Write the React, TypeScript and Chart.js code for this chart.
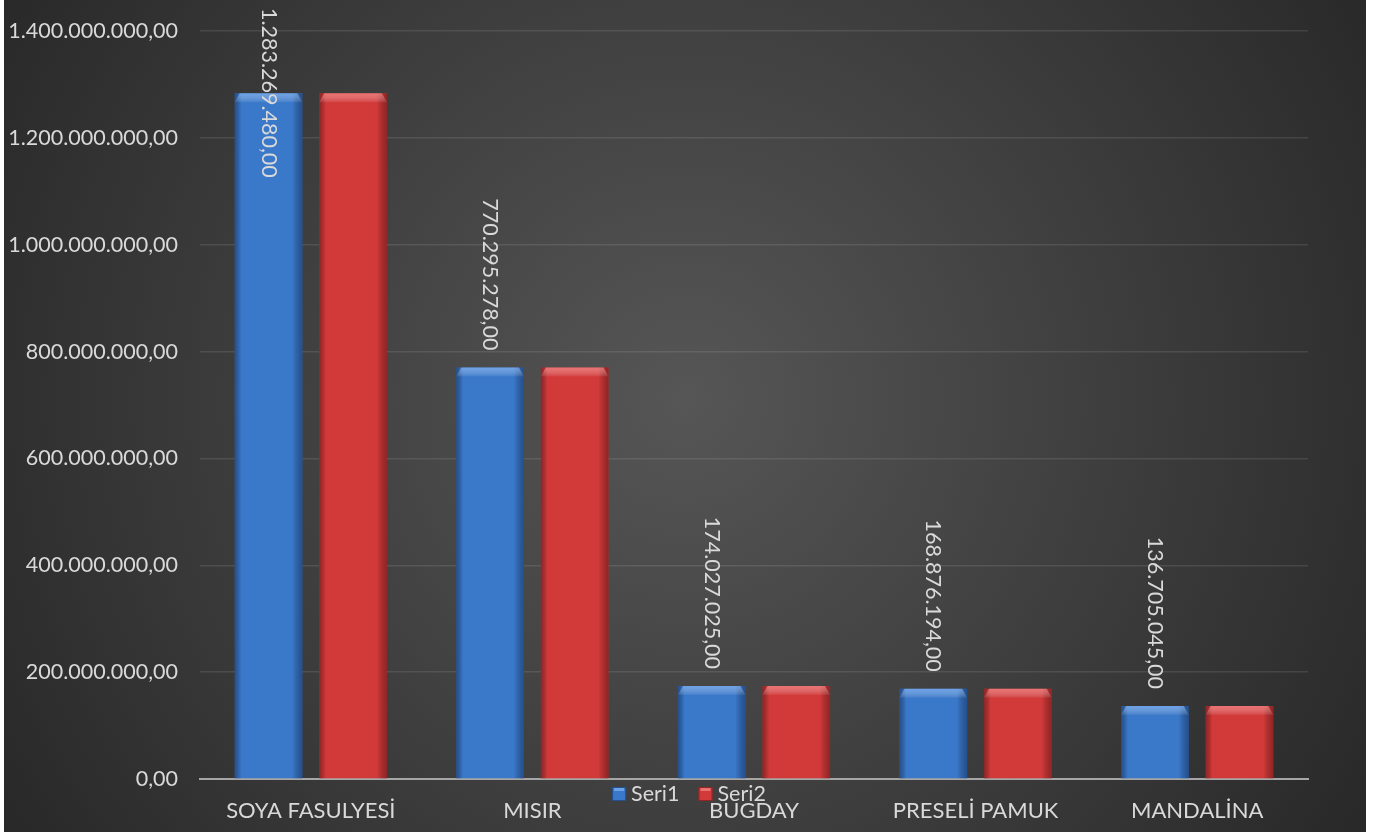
import React, { useEffect, useRef } from "react";
import { Chart, registerables } from "chart.js";

Chart.register(...registerables);

const categories = ["SOYA FASULYESİ", "MISIR", "BUGDAY", "PRESELİ PAMUK", "MANDALİNA"];
const seri1 = [1283269480, 770295278, 174027025, 168876194, 136705045];
const seri2 = [1283269480, 770295278, 174027025, 168876194, 136705045];
const seriesNames = ["Seri1", "Seri2"];
const yMax = 1400000000;
const yStep = 200000000;

const FONT = "Lato, 'Open Sans', sans-serif";
const TEXT = "#d9d9d9";
const FS = 21.5;

function fmtTR(v: number): string {
  const neg = v < 0;
  const fixed = Math.abs(v).toFixed(2);
  const [intPart, dec] = fixed.split(".");
  const withDots = intPart.replace(/\B(?=(\d{3})+(?!\d))/g, ".");
  return (neg ? "-" : "") + withDots + "," + dec;
}

const palette = [
  { main: "#3a78c9", dark: "rgba(10,30,70,0.45)", light: "rgba(150,195,255,0.55)" },
  { main: "#d23a3a", dark: "rgba(70,10,10,0.45)", light: "rgba(255,160,160,0.55)" },
];

const bgPlugin = {
  id: "bgGrad",
  beforeDraw(chart: any) {
    const { ctx, width, height } = chart;
    ctx.save();
    const g = ctx.createRadialGradient(width * 0.5, height * 0.48, 0, width * 0.5, height * 0.48, Math.max(width, height) * 0.62);
    g.addColorStop(0, "#565656");
    g.addColorStop(1, "#262626");
    ctx.fillStyle = g;
    ctx.fillRect(0, 0, width, height);
    ctx.restore();
  },
};

const bevelPlugin = {
  id: "bevel",
  afterDatasetsDraw(chart: any) {
    const { ctx } = chart;
    chart.data.datasets.forEach((ds: any, di: number) => {
      const meta = chart.getDatasetMeta(di);
      const pal = palette[di];
      meta.data.forEach((bar: any) => {
        const w = bar.width;
        const left = bar.x - w / 2;
        const top = bar.y;
        const bottom = bar.base;
        const h = bottom - top;
        ctx.save();
        const hg = ctx.createLinearGradient(left, 0, left + w, 0);
        hg.addColorStop(0, pal.dark);
        hg.addColorStop(0.1, "rgba(0,0,0,0)");
        hg.addColorStop(0.85, "rgba(0,0,0,0)");
        hg.addColorStop(1, pal.dark);
        ctx.fillStyle = hg;
        ctx.fillRect(left, top, w, h);
        const bh = Math.min(9, h / 2);
        const vg = ctx.createLinearGradient(0, top, 0, top + bh);
        vg.addColorStop(0, pal.light);
        vg.addColorStop(1, "rgba(255,255,255,0.05)");
        ctx.fillStyle = vg;
        ctx.beginPath();
        ctx.moveTo(left, top + bh);
        ctx.lineTo(left + 5, top);
        ctx.lineTo(left + w - 5, top);
        ctx.lineTo(left + w, top + bh);
        ctx.closePath();
        ctx.fill();
        ctx.restore();
      });
    });
  },
};

const labelPlugin = {
  id: "valLabels",
  afterDraw(chart: any) {
    const { ctx } = chart;
    const meta = chart.getDatasetMeta(0);
    const data = chart.data.datasets[0].data as number[];
    ctx.save();
    ctx.font = `${FS}px ${FONT}`;
    ctx.fillStyle = TEXT;
    ctx.textAlign = "left";
    ctx.textBaseline = "middle";
    meta.data.forEach((bar: any, i: number) => {
      const txt = fmtTR(data[i]);
      const tw = ctx.measureText(txt).width;
      const end = bar.y - 17;
      const start = Math.max(8, end - tw);
      ctx.save();
      ctx.translate(bar.x, start);
      ctx.rotate(Math.PI / 2);
      ctx.fillText(txt, 0, 0);
      ctx.restore();
    });
    ctx.restore();
  },
};

const legendPlugin = {
  id: "customLegend",
  afterDraw(chart: any) {
    const { ctx, width } = chart;
    ctx.save();
    ctx.font = `${FS}px ${FONT}`;
    ctx.textBaseline = "middle";
    ctx.textAlign = "left";
    const box = 14;
    const gapBoxText = 5;
    const gapItems = 19;
    const names = chart.data.datasets.map((d: any) => d.label);
    const widths = names.map((n: string) => box + gapBoxText + ctx.measureText(n).width);
    const total = widths.reduce((a: number, b: number) => a + b, 0) + gapItems * (names.length - 1);
    let x = width / 2 + 4 - total / 2;
    const cy = 794;
    names.forEach((n: string, i: number) => {
      const pal = palette[i];
      ctx.fillStyle = pal.main;
      ctx.fillRect(x, cy - box / 2, box, box);
      ctx.fillStyle = pal.light;
      ctx.fillRect(x + 2, cy - box / 2 + 1, box - 4, 3);
      ctx.strokeStyle = pal.dark;
      ctx.lineWidth = 1;
      ctx.strokeRect(x + 0.5, cy - box / 2 + 0.5, box - 1, box - 1);
      ctx.fillStyle = TEXT;
      ctx.fillText(n, x + box + gapBoxText, cy);
      x += widths[i] + gapItems;
    });
    ctx.restore();
  },
};

export default function App() {
  const ref = useRef<HTMLCanvasElement | null>(null);
  useEffect(() => {
    if (!ref.current) return;
    const chart = new Chart(ref.current, {
      type: "bar",
      data: {
        labels: categories,
        datasets: [
          {
            label: seriesNames[0],
            data: seri1,
            backgroundColor: palette[0].main,
            categoryPercentage: 0.763,
            barPercentage: 0.8,
          },
          {
            label: seriesNames[1],
            data: seri2,
            backgroundColor: palette[1].main,
            categoryPercentage: 0.763,
            barPercentage: 0.8,
          },
        ],
      },
      options: {
        animation: false,
        responsive: false,
        maintainAspectRatio: false,
        layout: { padding: { top: 31, right: 58, left: 0, bottom: 0 } },
        plugins: {
          legend: { display: false },
          tooltip: { enabled: false },
          title: { display: false },
        },
        scales: {
          x: {
            grid: { display: false, drawTicks: false },
            border: { display: true, color: "#a6a6a6", width: 2 },
            ticks: { color: TEXT, font: { family: FONT, size: 22 }, padding: 19, maxRotation: 0, autoSkip: false },
            afterFit: (s: any) => {
              s.height = 53;
            },
          },
          y: {
            min: 0,
            max: yMax,
            grid: { color: "rgba(255,255,255,0.1)", lineWidth: 1.5, drawTicks: false },
            border: { display: false },
            ticks: {
              stepSize: yStep,
              color: TEXT,
              font: { family: FONT, size: FS },
              padding: 22,
              callback: (v: any) => fmtTR(Number(v)),
            },
            afterFit: (s: any) => {
              s.width = 196;
              s.paddingTop = 0;
              s.paddingBottom = 0;
            },
          },
        },
      },
      plugins: [bgPlugin, bevelPlugin, labelPlugin, legendPlugin],
    });
    return () => chart.destroy();
  }, []);
  return (
    <div style={{ position: "absolute", left: 4, top: 0, width: 1362, height: 832 }}>
      <canvas ref={ref} width={1362} height={832} style={{ width: 1362, height: 832, display: "block" }} />
    </div>
  );
}
